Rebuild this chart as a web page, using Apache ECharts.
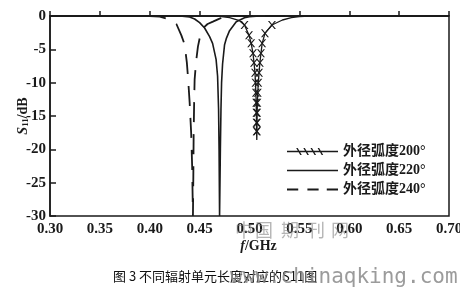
<!DOCTYPE html>
<html><head><meta charset="utf-8">
<script src="https://cdn.jsdelivr.net/npm/echarts@6/dist/echarts.min.js"></script>
<style>html,body{margin:0;padding:0;background:#fff}#c{width:460px;height:288px}</style>
</head><body><div id="c"></div>
<script>
// Series names
const seriesNames = ['外径弧度200°', '外径弧度220°', '外径弧度240°'];
// tick labels
const xTicks = [0.30, 0.35, 0.40, 0.45, 0.50, 0.55, 0.60, 0.65, 0.70];
const yTicks = [0, -5, -10, -15, -20, -25, -30];
// 200° (crossed) : [f GHz, S11 dB]
const s200 = [
  [0.30, 0], [0.46, 0], [0.47, -0.05], [0.48, -0.25], [0.49, -0.7], [0.495, -1.35],
  [0.4995, -2.9], [0.5017, -4.1], [0.5035, -5.6], [0.5045, -7.0], [0.5055, -8.5],
  [0.506, -10.0], [0.5064, -11.5], [0.5067, -13.0], [0.5069, -14.5], [0.507, -16.0],
  [0.5071, -17.3], [0.5073, -18.6], [0.5075, -17.3],
  [0.5076, -16.0], [0.5077, -14.5], [0.5079, -13.0], [0.5083, -11.5], [0.5088, -10.0],
  [0.5096, -8.5], [0.5104, -7.0], [0.5115, -5.6], [0.5127, -4.1], [0.5155, -2.6],
  [0.5225, -1.35], [0.533, -0.6], [0.542, -0.25], [0.55, -0.08], [0.56, 0], [0.70, 0]
];
// 220° (solid)
const s220 = [
  [0.30, 0], [0.43, 0], [0.435, -0.05], [0.44, -0.15], [0.445, -0.45], [0.45, -1.0],
  [0.455, -1.8], [0.46, -3.1], [0.463, -4.1], [0.4665, -6.5], [0.468, -9.0],
  [0.469, -14.0], [0.4695, -20.0], [0.470, -30.0], [0.4708, -20.0], [0.4714, -14.0],
  [0.472, -10.0], [0.473, -7.2], [0.475, -4.3], [0.4767, -3.4], [0.48, -2.2],
  [0.4867, -0.85], [0.495, -0.25], [0.50, -0.1], [0.51, 0], [0.70, 0]
];
// 240° (dashed)
const s240 = [
  [0.30, 0], [0.40, 0], [0.41, -0.1], [0.42, -0.5], [0.4267, -1.2], [0.4317, -2.9],
  [0.435, -4.3], [0.4372, -7.0], [0.4385, -9.5], [0.44, -13.0], [0.4415, -17.5],
  [0.4425, -22.5], [0.4433, -30.0], [0.4437, -24.0], [0.444, -18.0], [0.4445, -13.0],
  [0.445, -9.5], [0.4465, -6.8], [0.4483, -4.6], [0.4505, -3.0], [0.4533, -1.85],
  [0.458, -1.2], [0.4633, -0.85], [0.47, -0.4], [0.475, -0.1], [0.485, 0], [0.70, 0]
];
const caption = '图 3 不同辐射单元长度对应的S11图';
const wmUrl = 'www.chinaqking.com';
const wmCn = ['中', '国', '期', '刊', '网'];

const serif = '"Liberation Serif","Times New Roman","Noto Sans CJK SC",serif';
const ink = '#1a1a1a';
const xMark = 'path://M0,0L1.8,0L10,10L8.2,10Z M8.2,0L10,0L1.8,10L0,10Z';
// tiny corner dots keep the icon bounding box at 50x12
const box = 'M0,0L0.01,0L0.01,0.01Z M50,12L49.99,12L49.99,11.99Z ';
const iconCross = 'path://' + box + 'M0,5.3L50,5.3L50,6.7L0,6.7Z' +
  'M9,2.5L10.5,2.5L14.5,9.5L13,9.5Z M16,2.5L17.5,2.5L21.5,9.5L20,9.5Z M23,2.5L24.5,2.5L28.5,9.5L27,9.5Z M30,2.5L31.5,2.5L35.5,9.5L34,9.5Z';
const iconSolid = 'path://' + box + 'M0,5.2L50,5.2L50,6.8L0,6.8Z';
const iconDash = 'path://' + box + 'M0,5.1L11,5.1L11,6.9L0,6.9Z M20,5.1L31,5.1L31,6.9L20,6.9Z M39,5.1L50,5.1L50,6.9L39,6.9Z';

const crossedData = s200.map(p => {
  const show = p[1] <= -1.3 && p[1] > -18;
  return show ? { value: p } : { value: p, symbol: 'none' };
});

const chart = echarts.init(document.getElementById('c'), null, { renderer: 'canvas' });
const wmX = [235, 255, 281, 307, 331];
const legendItem = (name, icon) => ({ name, icon, itemStyle: { color: ink, borderWidth: 0, opacity: 1 } });
chart.setOption({
  animation: false,
  backgroundColor: '#fff',
  grid: { left: 50, right: 11, top: 16, bottom: 72, containLabel: false, outerBoundsMode: 'none',
    show: true, borderColor: ink, borderWidth: 1.5, backgroundColor: 'transparent' },
  xAxis: {
    type: 'value', min: 0.30, max: 0.70, interval: 0.05,
    name: '{i|f}/GHz', nameLocation: 'middle', nameGap: 23, nameMoveOverlap: false,
    nameTextStyle: { fontFamily: serif, fontWeight: 'bold', fontSize: 14, color: ink, padding: [0, 0, 0, 18],
      rich: { i: { fontFamily: serif, fontWeight: 'bold', fontStyle: 'italic', fontSize: 14, color: ink } } },
    axisLine: { lineStyle: { color: ink, width: 1.5 } },
    axisTick: { inside: true, length: 5, lineStyle: { color: ink, width: 1.5 } },
    axisLabel: { margin: 6, fontFamily: serif, fontWeight: 'bold', fontSize: 15, color: ink,
      formatter: v => { const t = xTicks.find(x => Math.abs(x - v) < 1e-6); return t !== undefined ? t.toFixed(2) : ''; } },
    splitLine: { show: false }
  },
  yAxis: {
    type: 'value', min: -30, max: 0, interval: 5,
    name: '{i|S}{sub|11}/dB', nameLocation: 'middle', nameGap: 27, nameRotate: 90, nameMoveOverlap: false,
    nameTextStyle: { fontFamily: serif, fontWeight: 'bold', fontSize: 14, color: ink, verticalAlign: 'middle',
      rich: {
        i: { fontFamily: serif, fontWeight: 'bold', fontStyle: 'italic', fontSize: 14, color: ink },
        sub: { fontFamily: serif, fontWeight: 'bold', fontSize: 9, color: ink, padding: [6, 0, 0, 0] }
      } },
    axisLine: { show: true, lineStyle: { color: ink, width: 1.5 } },
    axisTick: { show: true, inside: true, length: 6, lineStyle: { color: ink, width: 1.5 } },
    axisLabel: { margin: 4, fontFamily: serif, fontWeight: 'bold', fontSize: 15, color: ink,
      formatter: v => { const t = yTicks.find(y => Math.abs(y - v) < 1e-6); return t !== undefined ? String(t) : ''; } },
    splitLine: { show: false }
  },
  legend: {
    orient: 'vertical', left: 282, top: 139, itemWidth: 51, itemHeight: 12, itemGap: 4,
    symbolKeepAspect: false,
    textStyle: { fontFamily: serif, fontWeight: 'bold', fontSize: 14, color: ink, lineHeight: 15 },
    data: [
      legendItem(seriesNames[0], iconCross),
      legendItem(seriesNames[1], iconSolid),
      legendItem(seriesNames[2], iconDash)
    ]
  },
  series: [
    { name: seriesNames[0], type: 'line', data: crossedData, symbol: xMark, symbolSize: 8,
      showAllSymbol: true, lineStyle: { color: ink, width: 1.3 }, itemStyle: { color: ink }, z: 3 },
    { name: seriesNames[1], type: 'line', data: s220, symbol: 'none',
      lineStyle: { color: ink, width: 1.6 }, itemStyle: { color: ink } },
    { name: seriesNames[2], type: 'line', data: s240, symbol: 'none',
      lineStyle: { color: ink, width: 1.8, type: [20, 12] }, itemStyle: { color: ink } }
  ],
  graphic: [
    ...wmCn.map((ch, i) => ({ type: 'text', left: wmX[i], top: 221, silent: true, z: 100,
      style: { text: ch, font: '18px "Noto Sans CJK SC"', fill: 'rgba(120,120,120,0.55)' } })),
    { type: 'text', left: 113, top: 270, z: 50,
      style: { text: caption, font: '13px "Noto Sans CJK SC"', fill: '#111' } },
    { type: 'text', left: 230, top: 267, z: 100, silent: true,
      style: { text: wmUrl, font: '21px "DejaVu Sans Mono"', fill: 'rgba(130,130,130,0.8)' } }
  ]
});
</script></body></html>
